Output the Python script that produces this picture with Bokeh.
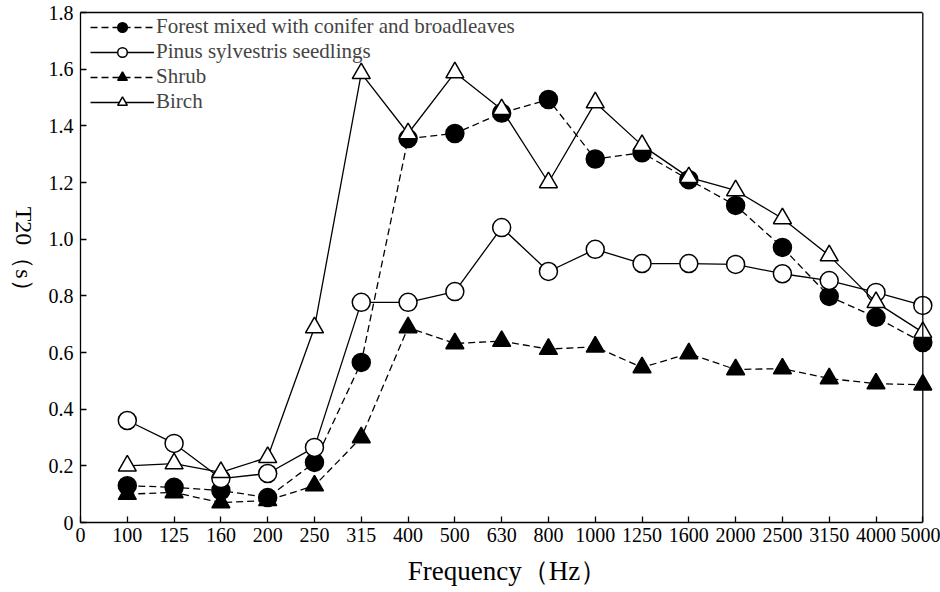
import math
from bokeh.plotting import figure
from bokeh.layouts import row
from bokeh.models import Range1d, FixedTicker, LegendItem, Legend, LinearAxis, Span, Label
from bokeh.embed import file_html
from bokeh.resources import INLINE

freqs = ["100", "125", "160", "200", "250", "315", "400", "500", "630", "800",
         "1000", "1250", "1600", "2000", "2500", "3150", "4000", "5000"]
forest = [0.13, 0.124, 0.113, 0.088, 0.212, 0.565, 1.355, 1.373, 1.445, 1.493,
          1.283, 1.305, 1.21, 1.119, 0.971, 0.798, 0.724, 0.635]
pinus = [0.36, 0.279, 0.155, 0.173, 0.265, 0.777, 0.777, 0.815, 1.041, 0.886,
         0.964, 0.914, 0.914, 0.911, 0.878, 0.854, 0.812, 0.766]
shrub = [0.1, 0.106, 0.07, 0.078, 0.13, 0.3, 0.688, 0.632, 0.64, 0.612,
         0.62, 0.547, 0.596, 0.54, 0.543, 0.508, 0.49, 0.486]
birch = [0.2, 0.208, 0.177, 0.23, 0.688, 1.585, 1.373, 1.588, 1.458, 1.2,
         1.482, 1.331, 1.218, 1.172, 1.073, 0.942, 0.777, 0.671]
y_ticks = [0, 0.2, 0.4, 0.6, 0.8, 1.0, 1.2, 1.4, 1.6, 1.8]
y_tick_labels = ["0", "0.2", "0.4", "0.6", "0.8", "1.0", "1.2", "1.4", "1.6", "1.8"]
x_zero_label = "0"
x_title = "Frequency（Hz）"
y_title = "T20（s）"

xs = list(range(1, len(freqs) + 1))
n = len(freqs)
FONT = "Liberation Serif"
EXTRA = 0.25  # room so that the last markers are not cut by the frame
H = 591
TW = 40  # width of the strip that carries the vertical y title

# narrow strip on the left holding the y title, read top to bottom
t = figure(width=TW, height=H, output_backend="svg", toolbar_location=None,
           x_range=Range1d(0, TW), y_range=Range1d(0, H),
           min_border_left=0, min_border_right=0, min_border_top=0, min_border_bottom=0)
t.axis.visible = False
t.grid.visible = False
t.outline_line_color = None
t.border_fill_color = "white"
t.background_fill_color = "white"
t.add_layout(Label(x=23, y=H - 225, text=y_title, angle=-math.pi / 2,
                   text_font=FONT, text_font_size="24px", text_align="left",
                   text_baseline="middle", text_color="black"))

p = figure(width=940 - TW, height=H, output_backend="svg", toolbar_location=None,
           x_range=Range1d(0, n + EXTRA), y_range=Range1d(0, 1.8),
           min_border_left=80 - TW, min_border_right=6, min_border_top=12, min_border_bottom=69)
p.grid.visible = False
p.outline_line_color = None
p.background_fill_color = "white"
p.border_fill_color = "white"

for ax in (p.xaxis[0], p.yaxis[0]):
    ax.major_tick_in = 6
    ax.major_tick_out = 0
    ax.minor_tick_line_color = None
    ax.axis_line_width = 1.3
    ax.major_tick_line_width = 1.3
    ax.major_label_text_font = FONT
    ax.major_label_text_font_size = "20px"
    ax.major_label_text_color = "black"
    ax.axis_label_text_font = FONT
    ax.axis_label_text_font_style = "normal"
    ax.axis_label_text_color = "black"

p.xaxis.bounds = (0, n)
p.xaxis.ticker = FixedTicker(ticks=[0] + xs)
p.xaxis.major_label_overrides = {0: x_zero_label, **{x: f for x, f in zip(xs, freqs)}}
p.xaxis.major_label_standoff = 5
p.xaxis.axis_label = x_title
p.xaxis.axis_label_text_font_size = "27px"
p.xaxis.axis_label_standoff = 11

p.yaxis.ticker = FixedTicker(ticks=y_ticks)
p.yaxis.major_label_overrides = {v: l for v, l in zip(y_ticks, y_tick_labels)}
p.yaxis.major_label_standoff = 7

top = LinearAxis(bounds=(0, n), ticker=FixedTicker(ticks=[]), axis_line_width=1.3,
                 major_tick_in=0, major_tick_out=0, minor_tick_line_color=None,
                 major_label_text_font_size="0px", major_label_standoff=0)
p.add_layout(top, "above")
p.add_layout(Span(location=n, dimension="height", line_color="black", line_width=1.3))

series = [
    ("Forest mixed with conifer and broadleaves", forest, "dashed", "circle", "black"),
    ("Pinus sylvestris seedlings", pinus, "solid", "circle", "white"),
    ("Shrub", shrub, "dashed", "triangle", "black"),
    ("Birch", birch, "solid", "triangle", "white"),
]
items = []
for name, ys, dash, marker, fill in series:
    ln = p.line(xs, ys, line_color="black", line_width=1.3,
                line_dash="7 4" if dash == "dashed" else "solid")
    sc = p.scatter(xs, ys, marker=marker, size=18,
                   fill_color=fill, line_color="black", line_width=1.5)
    items.append(LegendItem(label=name, renderers=[ln, sc]))

legend = Legend(items=items, location=(10, 408), glyph_width=64, glyph_height=24,
                label_height=24, label_text_font=FONT, label_text_font_size="21px",
                label_standoff=2, spacing=0, padding=0, margin=0,
                border_line_color=None, background_fill_alpha=0)
p.add_layout(legend)

layout = row(t, p, spacing=0)
open("out.html", "w").write(file_html(layout, INLINE))
